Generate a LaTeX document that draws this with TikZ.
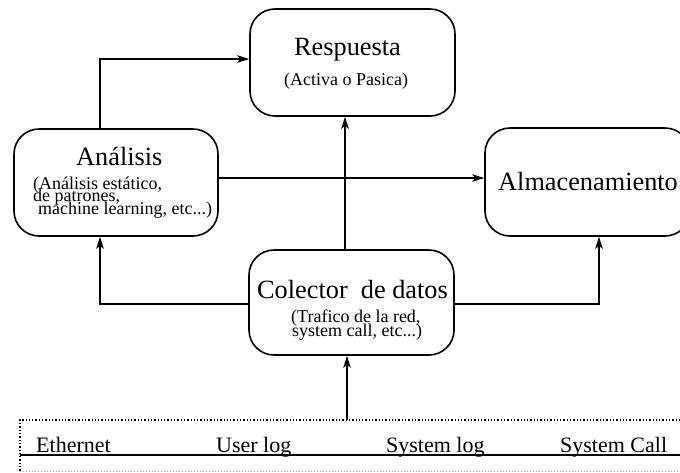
\documentclass[tikz,border=0pt]{standalone}
\usepackage{fontspec}
\setmainfont{Liberation Serif}
\usetikzlibrary{arrows.meta}
\begin{document}
\begin{tikzpicture}[x=1pt,y=-1pt,
 box/.style={draw,line width=1.6pt,rounded corners=25pt,inner sep=0pt},
 title/.style={font=\fontsize{26.3}{29}\selectfont,anchor=base west,inner sep=0pt},
 sub/.style={font=\fontsize{18}{20}\selectfont,anchor=base west,inner sep=0pt},
 lab/.style={font=\fontsize{22}{24}\selectfont,anchor=base west,inner sep=0pt},
 conn/.style={line width=1.6pt,-{Stealth[length=12pt,width=7.5pt,inset=3pt]}},
]
\useasboundingbox (0,0) rectangle (680,472);

% boxes
\node[box, minimum width=205pt, minimum height=107pt] (resp) at (352.5,62.5) {};
\node[box, minimum width=204pt, minimum height=107pt] (anal) at (116,182.5) {};
\node[box, minimum width=205pt, minimum height=108pt] (alm) at (587.5,182) {};
\node[box, minimum width=205pt, minimum height=105pt] (col) at (351.5,302.5) {};

% texts
\node[title] (respT) at (294,55) {Respuesta};
\node[sub] (respS) at (284,85) {(Activa o Pasica)};
\node[title] (analT) at (76,165) {Análisis};
\node[sub] (analS1) at (33,189) {(Análisis estático,};
\node[sub] (analS2) at (33,201) {de patrones,};
\node[sub] (analS3) at (38,214) {machine learning, etc...)};
\node[title] (almT) at (498,190) {Almacenamiento};
\node[title] (colT) at (257,298) {Colector\ \ de datos};
\node[sub] (colS1) at (291,322) {(Trafico de la red,};
\node[sub] (colS2) at (292,336) {system call, etc...)};

% source strip
\node[lab] (eth) at (36,452) {Ethernet};
\node[lab] (ulog) at (216,452) {User log};
\node[lab] (slog) at (386,452) {System log};
\node[lab] (scall) at (560,452) {System Call};
\draw[dotted, line width=1.3pt] (700,420) -- (20,420) -- (20,471);
\draw[dotted, line width=1pt, black!35] (20,471) -- (700,471);
\draw[line width=1.5pt] (20,455) -- (700,455);
\coordinate (srctop) at (347,420);

% helper coordinates
\coordinate (xa) at (100,0);
\coordinate (xv) at (345,0);
\coordinate (xs) at (347,0);
\coordinate (xr) at (599,0);
\coordinate (yh) at (0,178);
\coordinate (yt) at (0,59);
\coordinate (yc) at (0,304);

% connectors
\draw[conn] (anal.north -| xa) |- (resp.west |- yt);
\draw[conn] (anal.east |- yh) -- (alm.west |- yh);
\draw[conn] (col.north -| xv) -- (resp.south -| xv);
\draw[conn] (col.west |- yc) -| (anal.south -| xa);
\draw[conn] (col.east |- yc) -| (alm.south -| xr);
\draw[conn] (srctop) -- (col.south -| xs);
\end{tikzpicture}
\end{document}
